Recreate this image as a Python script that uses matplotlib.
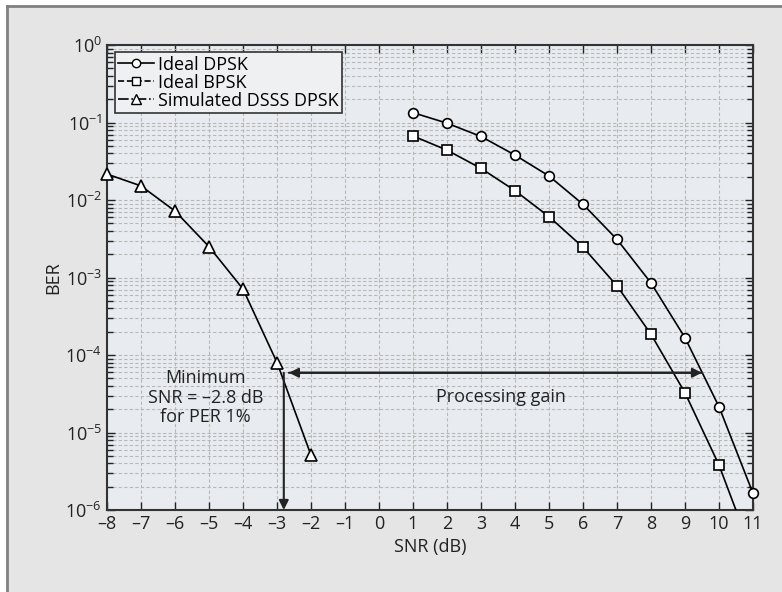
import matplotlib
matplotlib.use("Agg")
import matplotlib.pyplot as plt
from matplotlib.lines import Line2D
from matplotlib.patches import Rectangle
from matplotlib.ticker import LogLocator, NullFormatter, MultipleLocator

plt.rcParams['font.family'] = ['Open Sans', 'DejaVu Sans']

# data
snr_ideal = [1, 2, 3, 4, 5, 6, 7, 8, 9, 10, 11]
ber_dpsk = [0.134, 0.098, 0.066, 0.038, 0.0204, 0.0088, 0.0031, 8.5e-4, 1.67e-4, 2.15e-5, 1.64e-6]
ber_bpsk = [0.067, 0.044, 0.0256, 0.0132, 0.0061, 0.00246, 7.8e-4, 1.85e-4, 3.25e-5, 3.8e-6, 2.6e-7]
snr_sim = [-8, -7, -6, -5, -4, -3, -2]
ber_sim = [0.0216, 0.0152, 0.0072, 0.0025, 7.1e-4, 8.0e-5, 5.1e-6]

min_snr = -2.8
gain_level = 5.9e-5
gain_start = -2.65
gain_end = 9.5

W, H = 782, 592
fig = plt.figure(figsize=(W / 100, H / 100), dpi=100, facecolor='#e5e5e5')
# white strips and grey border on the top and left edges
fig.patches.append(Rectangle((0, 0), 6 / W, 1, transform=fig.transFigure,
                             facecolor='white', edgecolor='none', zorder=-10))
fig.patches.append(Rectangle((0, 1 - 5 / H), 1, 5 / H, transform=fig.transFigure,
                             facecolor='white', edgecolor='none', zorder=-10))
fig.lines.append(Line2D([7 / W, 7 / W], [0, 1 - 6 / H], transform=fig.transFigure, color='#808080', lw=2))
fig.lines.append(Line2D([7 / W, 1], [1 - 6 / H, 1 - 6 / H], transform=fig.transFigure, color='#808080', lw=2))

ax = fig.add_axes([107 / W, 1 - 510 / H, (753 - 107) / W, (510 - 45) / H])
ax.set_facecolor('#e8ecf0')
ax.set_yscale('log')
ax.set_xlim(-8, 11)
ax.set_ylim(1e-6, 1)

ax.xaxis.set_major_locator(MultipleLocator(1))
ax.yaxis.set_major_locator(LogLocator(base=10, numticks=10))
ax.yaxis.set_minor_locator(LogLocator(base=10, subs=range(2, 10), numticks=20))
ax.yaxis.set_minor_formatter(NullFormatter())
ax.tick_params(which='both', direction='in', top=True, right=True, labelsize=13, colors='#222222')
ax.tick_params(which='major', length=6, width=1)
ax.tick_params(which='minor', length=4, width=1)
ax.set_xticks(range(-8, 12))
ax.set_xticklabels([str(v).replace('-', '\u2013') for v in range(-8, 12)])

ax.grid(which='major', axis='x', color='#b8b8b8', linestyle=(0, (3, 2)), linewidth=0.8)
ax.grid(which='both', axis='y', color='#b8b8b8', linestyle=(0, (3, 2)), linewidth=0.8)
for s in ax.spines.values():
    s.set_linewidth(1.5)
    s.set_color('#333333')

mk = dict(markerfacecolor='white', markeredgecolor='black', markeredgewidth=1.2)
ax.plot(snr_ideal, ber_dpsk, '-', color='black', lw=1.2, marker='o', markersize=7, clip_on=False, zorder=3, **mk)
ax.plot(snr_ideal, ber_bpsk, '-', color='black', lw=1.2, marker='s', markersize=7,
        markevery=list(range(10)), zorder=3, **mk)
ax.plot(snr_sim, ber_sim, '-', color='black', lw=1.2, marker='^', markersize=9, clip_on=False, zorder=3, **mk)

# processing gain arrows
arr = dict(arrowstyle='-|>', color='#222222', lw=1.5, mutation_scale=14, shrinkA=0, shrinkB=0)
ax.annotate('', xy=(gain_start, gain_level), xytext=(gain_end, gain_level), arrowprops=arr)
ax.annotate('', xy=(gain_end, gain_level), xytext=(gain_start, gain_level), arrowprops=arr)
ax.annotate('', xy=(min_snr, 1e-6), xytext=(min_snr, gain_level), arrowprops=arr)

ax.text(-5.1, 2.8e-5, 'Minimum\nSNR = \u20132.8 dB\nfor PER 1%', ha='center', va='center',
        fontsize=13, linespacing=1.1, color='#222222')
ax.text(3.6, 2.9e-5, 'Processing gain', ha='center', va='center', fontsize=13, color='#222222')

ax.set_xlabel('SNR (dB)', fontsize=13, color='#222222', labelpad=4)
ax.set_ylabel('BER', fontsize=13, color='#222222', labelpad=2)

handles = [
    Line2D([], [], color='black', lw=1.2, marker='o', markersize=6, markerfacecolor='white', markeredgecolor='black'),
    Line2D([], [], color='black', lw=1.2, linestyle='--', marker='s', markersize=6, markerfacecolor='white', markeredgecolor='black'),
    Line2D([], [], color='black', lw=1.2, linestyle='-.', marker='^', markersize=7, markerfacecolor='white', markeredgecolor='black'),
]
leg = ax.legend(handles, ['Ideal DPSK', 'Ideal BPSK', 'Simulated DSSS DPSK'], loc='upper left',
                bbox_to_anchor=(0.012, 0.985), fontsize=13, fancybox=False, framealpha=1,
                handlelength=2.0, handletextpad=0.2, borderpad=0.2, labelspacing=0.0, borderaxespad=0)
leg.get_frame().set_edgecolor('#333333')
leg.get_frame().set_linewidth(1.2)
leg.get_frame().set_facecolor('#eef0f2')

fig.savefig('out.png', dpi=100)
